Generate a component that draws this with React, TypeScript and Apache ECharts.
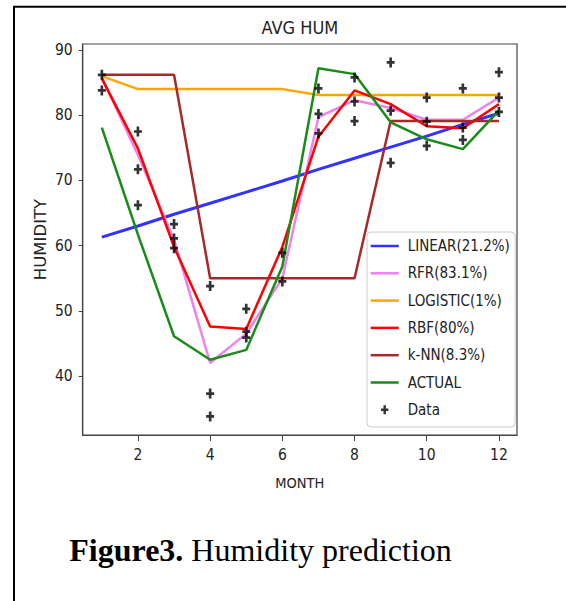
import React, { useEffect, useRef } from 'react';
import * as echarts from 'echarts';

const months = [1, 2, 3, 4, 5, 6, 7, 8, 9, 10, 11, 12];
const linearVals = [61.3, 63.0, 64.8, 66.5, 68.2, 69.9, 71.7, 73.4, 75.1, 76.8, 78.6, 80.3];
const rfrVals = [85.8, 73.9, 60.9, 42.0, 46.5, 55.0, 79.7, 82.3, 81.1, 79.3, 79.3, 82.7];
const logisticVals = [86.0, 84.0, 84.0, 84.0, 84.0, 84.0, 83.1, 83.1, 83.1, 83.1, 83.1, 83.1];
const rbfVals = [85.6, 74.9, 59.8, 47.6, 47.2, 59.8, 76.7, 83.8, 81.7, 78.3, 78.0, 81.7];
const knnVals = [86.2, 86.2, 86.2, 55.0, 55.0, 55.0, 55.0, 55.0, 79.1, 79.1, 79.1, 79.1];
const actualVals = [78.1, 61.7, 46.1, 42.5, 44.0, 56.8, 87.2, 86.3, 78.9, 76.3, 74.8, 80.7];

const dataMonths = [1, 1, 2, 2, 2, 3, 3, 3, 4, 4, 4, 5, 5, 5, 6, 6, 7, 7, 7, 8, 8, 8, 9, 9, 9, 10, 10, 10, 11, 11, 11, 12, 12, 12];
const dataValues = [86.2, 83.8, 77.5, 71.7, 66.2, 63.3, 61.1, 59.6, 53.8, 37.3, 33.8, 50.3, 46.8, 45.9, 58.9, 54.5, 84.1, 80.2, 77.2, 85.8, 82.1, 79.1, 88.1, 80.7, 72.7, 82.7, 79.0, 75.3, 84.1, 78.1, 76.2, 86.6, 82.7, 80.5];

const seriesNames = ['LINEAR(21.2%)', 'RFR(83.1%)', 'LOGISTIC(1%)', 'RBF(80%)', 'k-NN(8.3%)', 'ACTUAL'];
const seriesColors = ['#3333ff', '#ee82ee', '#ffa500', '#ff0000', '#a52a2a', '#1a8c1a'];
const dataName = 'Data';
const xTicks = [2, 4, 6, 8, 10, 12];
const yTicks = [40, 50, 60, 70, 80, 90];
const chartTitle = 'AVG HUM';
const xName = 'MONTH';
const yName = 'HUMIDITY';

const NARROW = '"DejaVu Sans Condensed", "DejaVu Sans", sans-serif';
const PLUS = 'path://M3,0h3v4h3v3h-3v4h-3v-4h-3v-3h3z';
const BAR = 'path://M0,0h28v2.5h-28z';

export default function App() {
  const ref = useRef<HTMLDivElement>(null);
  useEffect(() => {
    if (!ref.current) return;
    const chart = echarts.init(ref.current, undefined, { renderer: 'svg' });
    const lineSets = [linearVals, rfrVals, logisticVals, rbfVals, knnVals, actualVals];
    const lineSeries = lineSets.map((vals, i) => ({
      name: seriesNames[i],
      type: 'line',
      data: months.map((m, j) => [m, vals[j]]),
      symbol: 'none',
      color: seriesColors[i],
      lineStyle: { width: i === 0 ? 3 : 2.5, color: seriesColors[i] },
      z: 2 + i,
    }));
    const option = {
      animation: false,
      backgroundColor: '#fff',
      title: {
        text: chartTitle,
        left: 299.9,
        textAlign: 'center',
        top: 18,
        padding: 0,
        textStyle: { fontFamily: NARROW, fontSize: 18, fontWeight: 'normal', color: '#222' },
      },
      grid: {
        left: 82.7,
        right: 49,
        top: 44,
        bottom: 166,
        show: true,
        borderColor: '#444',
        borderWidth: 1.2,
        backgroundColor: 'transparent',
      },
      xAxis: {
        type: 'value',
        min: 0.47,
        max: 12.5,
        name: xName,
        nameLocation: 'middle',
        nameGap: 40,
        nameMoveOverlap: false,
        nameTextStyle: { fontFamily: NARROW, fontSize: 14.5, color: '#222' },
        axisLine: { show: true, lineStyle: { color: '#444', width: 1.2 } },
        axisTick: { show: true, customValues: xTicks, length: 6, lineStyle: { color: '#444' } },
        axisLabel: { customValues: xTicks, margin: 12, fontFamily: NARROW, fontSize: 15.5, color: '#222' },
        splitLine: { show: false },
      },
      yAxis: {
        type: 'value',
        min: 30.95,
        max: 90.92,
        name: yName,
        nameLocation: 'middle',
        nameGap: 33.5,
        nameMoveOverlap: false,
        nameRotate: 90,
        nameTextStyle: { fontFamily: '"DejaVu Sans", sans-serif', fontSize: 16.5, color: '#222' },
        axisLine: { show: true, lineStyle: { color: '#444', width: 1.2 } },
        axisTick: { show: true, customValues: yTicks, length: 4, lineStyle: { color: '#444' } },
        axisLabel: { customValues: yTicks, margin: 10, fontFamily: NARROW, fontSize: 15.5, color: '#222' },
        splitLine: { show: false },
      },
      legend: {
        left: 367,
        top: 232,
        orient: 'vertical',
        padding: [6.5, 5.3, 9.7, 3.7],
        itemWidth: 28,
        itemHeight: 9,
        itemGap: 12.3,
        backgroundColor: 'rgba(255,255,255,0.85)',
        borderColor: '#cccccc',
        borderWidth: 1,
        borderRadius: 4,
        textStyle: { fontFamily: NARROW, fontSize: 15, lineHeight: 15, color: '#222', padding: [0, 0, 0, 4] },
        data: [
          ...seriesNames.map((n) => ({ name: n, icon: BAR })),
          { name: dataName, icon: PLUS },
        ],
      },
      series: [
        ...lineSeries,
        {
          name: dataName,
          type: 'scatter',
          data: dataMonths.map((m, j) => [m, dataValues[j]]),
          symbol: PLUS,
          symbolSize: [8, 10],
          color: '#000',
          itemStyle: { color: '#000' },
          z: 10,
        },
      ],
      graphic: [
        { type: 'line', shape: { x1: 13, y1: 6.7, x2: 566, y2: 6.7 }, style: { stroke: '#000', lineWidth: 2 } },
        { type: 'line', shape: { x1: 14, y1: 6, x2: 14, y2: 601 }, style: { stroke: '#000', lineWidth: 2 } },
        {
          type: 'text',
          x: 69.3,
          y: 550,
          style: {
            text: '{b|Figure3.} Humidity prediction',
            fontFamily: '"Liberation Serif", "Times New Roman", serif',
            fontSize: 32,
            fill: '#000',
            verticalAlign: 'middle',
            rich: { b: { fontWeight: 'bold', fontFamily: '"Liberation Serif", "Times New Roman", serif', fontSize: 32, fill: '#000' } },
          },
        },
      ],
    };
    chart.setOption(option as any);
    return () => chart.dispose();
  }, []);
  return <div ref={ref} style={{ position: 'absolute', left: 0, top: 0, width: 566, height: 601 }} />;
}
